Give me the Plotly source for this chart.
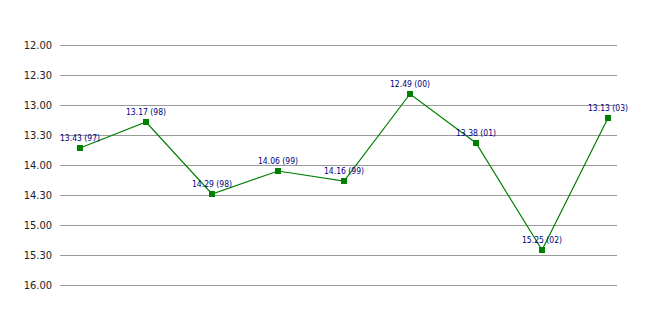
import plotly.graph_objects as go

# Data: times as "min.sec" labels with years
time_labels = ["13.43", "13.17", "14.29", "14.06", "14.16", "12.49", "13.38", "15.25", "13.13"]
years = ["97", "98", "98", "99", "99", "00", "01", "02", "03"]
tick_labels = ["12.00", "12.30", "13.00", "13.30", "14.00", "14.30", "15.00", "15.30", "16.00"]


def to_sec(s):
    m, sec = s.split(".")
    return int(m) * 60 + int(sec)


y_vals = [to_sec(t) for t in time_labels]
tick_vals = [to_sec(t) for t in tick_labels]
x_vals = list(range(len(time_labels)))
point_text = [f"{t} ({y})" for t, y in zip(time_labels, years)]

narrow = "DejaVu Sans Condensed, Liberation Sans Narrow, sans-serif"

fig = go.Figure()
fig.add_trace(go.Scatter(
    x=x_vals, y=y_vals,
    mode="lines+markers+text",
    line=dict(color="#008000", width=1.2),
    marker=dict(symbol="square", size=6, color="#008000"),
    text=point_text,
    textposition="top center",
    textfont=dict(family=narrow, size=8.5, color="#000080"),
    hoverinfo="skip",
    cliponaxis=False,
))

fig.update_layout(
    width=656, height=315,
    margin=dict(l=60, r=39, t=43, b=28),
    paper_bgcolor="white", plot_bgcolor="white",
    showlegend=False,
    xaxis=dict(range=[-0.303, 8.136], showgrid=False, showticklabels=False,
               zeroline=False, showline=False, ticks=""),
    yaxis=dict(range=[962, 718], tickvals=tick_vals, ticktext=tick_labels,
               showgrid=True, gridcolor="#999999", gridwidth=1,
               zeroline=False, showline=False, ticks="",
               ticklabelstandoff=7,
               tickfont=dict(family=narrow, size=11, color="#222222")),
)

fig.write_html("out.html")
